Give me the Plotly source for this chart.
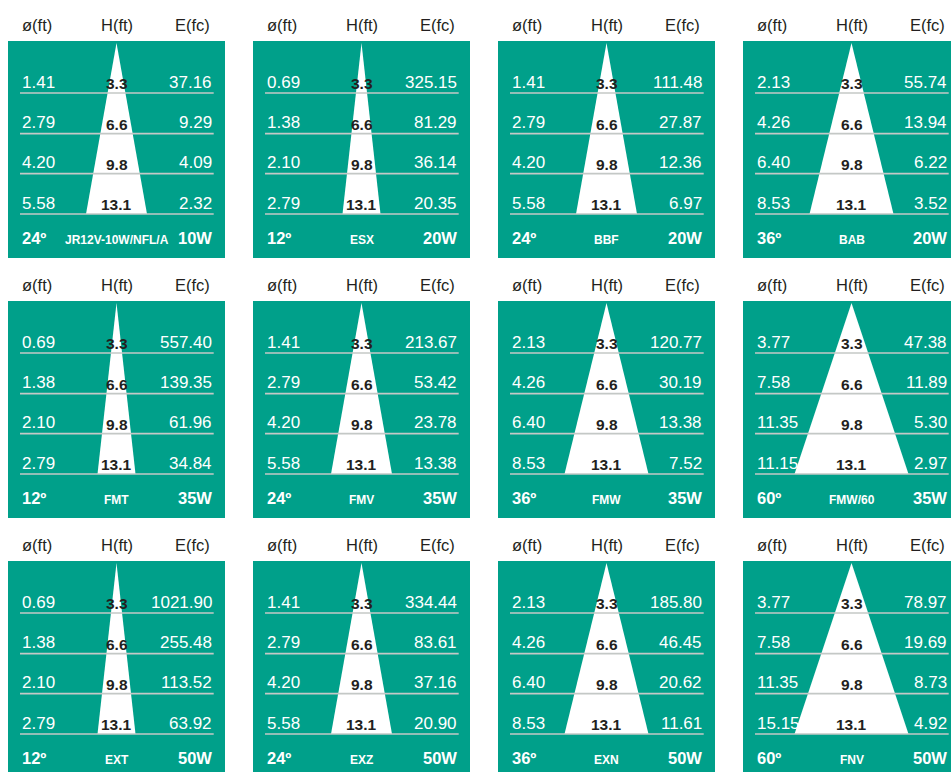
import plotly.graph_objects as go

# ---------------- data ----------------
heights_ft = ["3.3", "6.6", "9.8", "13.1"]

beam_angles = [24, 12, 24, 36,
               12, 24, 36, 60,
               12, 24, 36, 60]
model_names = ["JR12V-10W/NFL/A", "ESX", "BBF", "BAB",
               "FMT", "FMV", "FMW", "FMW/60",
               "EXT", "EXZ", "EXN", "FNV"]
wattages = ["10W", "20W", "20W", "20W",
            "35W", "35W", "35W", "35W",
            "50W", "50W", "50W", "50W"]
diameters_ft = [
    ["1.41", "2.79", "4.20", "5.58"],
    ["0.69", "1.38", "2.10", "2.79"],
    ["1.41", "2.79", "4.20", "5.58"],
    ["2.13", "4.26", "6.40", "8.53"],
    ["0.69", "1.38", "2.10", "2.79"],
    ["1.41", "2.79", "4.20", "5.58"],
    ["2.13", "4.26", "6.40", "8.53"],
    ["3.77", "7.58", "11.35", "11.15"],
    ["0.69", "1.38", "2.10", "2.79"],
    ["1.41", "2.79", "4.20", "5.58"],
    ["2.13", "4.26", "6.40", "8.53"],
    ["3.77", "7.58", "11.35", "15.15"],
]
illuminance_fc = [
    ["37.16", "9.29", "4.09", "2.32"],
    ["325.15", "81.29", "36.14", "20.35"],
    ["111.48", "27.87", "12.36", "6.97"],
    ["55.74", "13.94", "6.22", "3.52"],
    ["557.40", "139.35", "61.96", "34.84"],
    ["213.67", "53.42", "23.78", "13.38"],
    ["120.77", "30.19", "13.38", "7.52"],
    ["47.38", "11.89", "5.30", "2.97"],
    ["1021.90", "255.48", "113.52", "63.92"],
    ["334.44", "83.61", "37.16", "20.90"],
    ["185.80", "46.45", "20.62", "11.61"],
    ["78.97", "19.69", "8.73", "4.92"],
]
header_labels = ["ø(ft)", "H(ft)", "E(fc)"]

# ---------------- style / layout ----------------
W, H = 951, 772
TEAL = "#00a08a"
LINE = "#c4c8c6"
DARK = "#231f20"
FONT = "Liberation Sans, Arial, Helvetica, sans-serif"
COLS = 4
X0, XPITCH = 8, 245
Y0, YPITCH = 41, 260
PW, PH = 217, 217
CONE_HALF = {12: 19, 24: 30.5, 36: 42, 60: 57}
APEX_Y = 2
ROW_LINE_Y = [52, 92.7, 132.7, 173]
LX0, LX1 = 12, 205.7

fig = go.Figure()
shapes = []
annotations = []


def ann(x, y, text, size, color, anchor, bold=False):
    annotations.append(dict(
        x=x, y=y, xref="x", yref="y", text=("<b>%s</b>" % text) if bold else text,
        showarrow=False, xanchor=anchor, yanchor="middle",
        font=dict(family=FONT, size=size, color=color)))


for i in range(len(model_names)):
    r, c = divmod(i, COLS)
    px, py = X0 + c * XPITCH, Y0 + r * YPITCH
    cx = px + PW / 2
    # panel background
    shapes.append(dict(type="rect", xref="x", yref="y", x0=px, x1=px + PW, y0=py, y1=py + PH,
                       fillcolor=TEAL, line=dict(width=0), layer="below"))
    # cone
    hw = CONE_HALF[beam_angles[i]]
    by = py + ROW_LINE_Y[-1]
    shapes.append(dict(type="path", xref="x", yref="y",
                       path="M %f %f L %f %f L %f %f Z" % (cx, py + APEX_Y, cx - hw, by, cx + hw, by),
                       fillcolor="white", line=dict(width=0), layer="below"))
    # headers
    hy = py - 16
    ann(px + 12, hy, header_labels[0], 16.5, DARK, "left")
    ann(cx, hy, header_labels[1], 16.5, DARK, "center")
    ann(px + 204, hy, header_labels[2], 16.5, DARK, "right")
    # rows
    for k in range(4):
        ly = py + ROW_LINE_Y[k]
        shapes.append(dict(type="line", xref="x", yref="y", x0=px + LX0, x1=px + LX1, y0=ly, y1=ly,
                           line=dict(color=LINE, width=1.7)))
        ann(px + LX0, ly - 11, diameters_ft[i][k], 17, "white", "left")
        ann(cx, ly - 9.5, heights_ft[k], 15.5, DARK, "center", bold=True)
        ann(px + LX1, ly - 11, illuminance_fc[i][k], 17, "white", "right")
    # footer
    fy = py + 197
    ann(px + 12, fy, "%dº" % beam_angles[i], 16.5, "white", "left", bold=True)
    ann(cx, fy + 1.5, model_names[i], 12, "white", "center", bold=True)
    ann(px + LX1, fy, wattages[i], 16.5, "white", "right", bold=True)

fig.update_layout(
    width=W, height=H,
    margin=dict(l=0, r=0, t=0, b=0),
    paper_bgcolor="white", plot_bgcolor="white",
    xaxis=dict(range=[0, W], visible=False, fixedrange=True),
    yaxis=dict(range=[H, 0], visible=False, fixedrange=True),
    shapes=shapes, annotations=annotations, showlegend=False,
)
fig.write_html(
    "out.html",
    config={"displayModeBar": False},
    post_script="document.body.style.margin='0';document.body.style.overflow='hidden';",
)
